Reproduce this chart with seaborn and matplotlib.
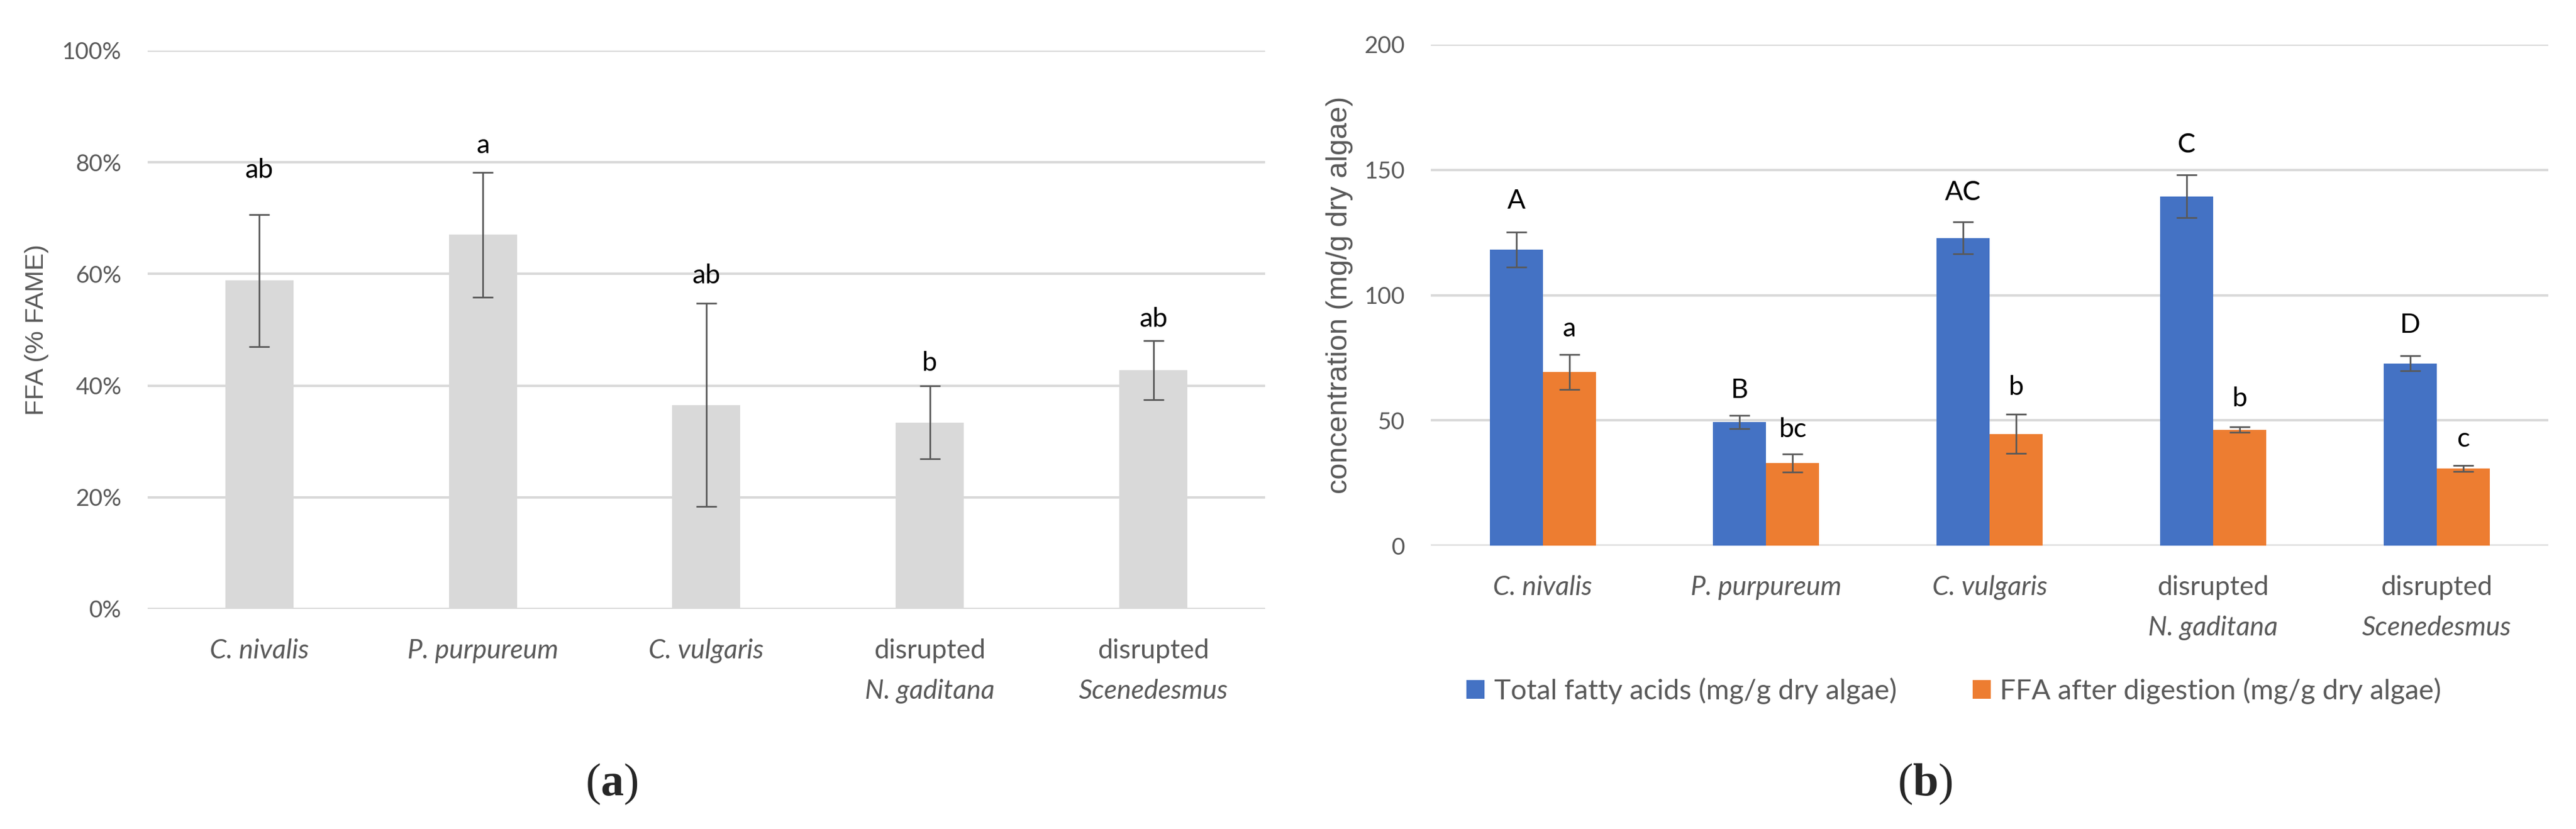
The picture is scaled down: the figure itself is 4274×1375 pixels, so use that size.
import matplotlib
matplotlib.use("Agg")
import matplotlib.pyplot as plt
import numpy as np
import pandas as pd
import seaborn as sns
from matplotlib.ticker import FuncFormatter

# categories
species = ["C. nivalis", "P. purpureum", "C. vulgaris", "N. gaditana", "Scenedesmus"]
disrupted = [False, False, False, True, True]

# (a) FFA as % of FAME
ffa_pct = [58.8, 67.0, 36.5, 33.4, 42.8]
ffa_pct_err = [11.8, 11.2, 18.2, 6.5, 5.3]
letters_a = ["ab", "a", "ab", "b", "ab"]

# (b) concentration, mg/g dry algae
series = ["Total fatty acids (mg/g dry algae)", "FFA after digestion (mg/g dry algae)"]
total_fa = [118.2, 49.4, 122.8, 139.4, 72.8]
total_fa_err = [7.0, 2.6, 6.4, 8.5, 2.9]
ffa_digest = [69.4, 33.0, 44.6, 46.3, 30.7]
ffa_digest_err = [7.0, 3.6, 7.8, 1.0, 1.2]
letters_total = ["A", "B", "AC", "C", "D"]
letters_ffa = ["a", "bc", "b", "b", "c"]

# letter offsets above error bar tops (points)
off_a = [53, 32, 33, 27, 25]
off_total = [37, 30, 35, 36, 37]
off_ffa = [30, 29, 32, 34, 32]

sns.set_style("white")
plt.rcParams["font.family"] = ["Lato", "DejaVu Sans"]
plt.rcParams["mathtext.fontset"] = "custom"
plt.rcParams["mathtext.rm"] = "Liberation Serif"
plt.rcParams["mathtext.bf"] = "Liberation Serif:bold"

GRID = "#D9D9D9"
TXT = "#595959"

fig = plt.figure(figsize=(42.74, 13.75), dpi=100)
axa = fig.add_axes([0.0573, 0.2655, 0.4338, 0.6735])
axb = fig.add_axes([0.5555, 0.3418, 0.4338, 0.6044])


def style_axis(ax, ymax, step, fmt):
    ax.set_xlim(-0.5, 4.5)
    ax.set_ylim(0, ymax)
    ax.set_yticks(np.arange(0, ymax + 1, step))
    ax.yaxis.set_major_formatter(FuncFormatter(fmt))
    ax.yaxis.grid(True, color=GRID, lw=2.9)
    ax.xaxis.grid(False)
    ax.set_axisbelow(True)
    for s in ax.spines.values():
        s.set_visible(False)
    ax.tick_params(axis="y", length=0, pad=31, labelsize=28, labelcolor=TXT)
    ax.tick_params(axis="x", length=0)
    ax.set_xticks(range(len(species)))
    ax.set_xticklabels([])
    ax.set_xlabel("")
    # category labels (two lines for disrupted strains)
    for i, (name, dis) in enumerate(zip(species, disrupted)):
        if dis:
            ax.annotate("disrupted", xy=(i, 0), xycoords=ax.get_xaxis_transform(),
                        xytext=(0, -50), textcoords="offset points", ha="center",
                        va="center", fontsize=32, color=TXT)
            ax.annotate(name, xy=(i, 0), xycoords=ax.get_xaxis_transform(),
                        xytext=(0, -98), textcoords="offset points", ha="center",
                        va="center", fontsize=32, color=TXT, style="italic")
        else:
            ax.annotate(name, xy=(i, 0), xycoords=ax.get_xaxis_transform(),
                        xytext=(0, -50), textcoords="offset points", ha="center",
                        va="center", fontsize=32, color=TXT, style="italic")


def add_errors(ax, container, err, letters, offs):
    xs = [p.get_x() + p.get_width() / 2 for p in container]
    hs = [p.get_height() for p in container]
    ax.errorbar(xs, hs, yerr=err, fmt="none", ecolor=TXT, elinewidth=2,
                capsize=12, capthick=2, zorder=3)
    for x, h, e, lab, o in zip(xs, hs, err, letters, offs):
        ax.annotate(lab, xy=(x, h + e), xytext=(0, o), textcoords="offset points",
                    ha="center", va="center", fontsize=32, color="black")


# ---- panel (a)
df_a = pd.DataFrame({"species": species, "ffa": ffa_pct})
sns.barplot(data=df_a, x="species", y="ffa", color=GRID, width=0.305,
            saturation=1, errorbar=None, linewidth=0, ax=axa)
style_axis(axa, 100, 20, lambda v, p: f"{v:.0f}%")
add_errors(axa, axa.containers[0], ffa_pct_err, letters_a, off_a)
axa.set_ylabel("FFA (% FAME)", family="Liberation Sans", fontsize=31, color=TXT)
axa.yaxis.label.set_va("center")
axa.yaxis.set_label_coords(-0.0992, 0.5)

# ---- panel (b)
df_b = pd.DataFrame({
    "species": species * 2,
    "series": [series[0]] * len(species) + [series[1]] * len(species),
    "value": total_fa + ffa_digest,
})
sns.barplot(data=df_b, x="species", y="value", hue="series",
            palette=["#4472C4", "#ED7D31"], width=0.475, saturation=1,
            errorbar=None, linewidth=0, ax=axb)
style_axis(axb, 200, 50, lambda v, p: f"{v:.0f}")
add_errors(axb, axb.containers[0], total_fa_err, letters_total, off_total)
add_errors(axb, axb.containers[1], ffa_digest_err, letters_ffa, off_ffa)
axb.set_ylabel("concentration (mg/g dry algae)", family="Liberation Sans",
               fontsize=35, color=TXT)
axb.yaxis.label.set_va("center")
axb.yaxis.set_label_coords(-0.082, 0.5)
sns.move_legend(axb, loc="center left", bbox_to_anchor=(0.0318, -0.29), ncol=2,
                frameon=False, title=None, fontsize=33.5, handlelength=0.65,
                handleheight=0.65, handletextpad=0.33, columnspacing=2.7,
                borderpad=0, borderaxespad=0, labelcolor=TXT)

fig.text(0.2375, 0.0545, r"$(\mathbf{a})$", ha="center", va="center", fontsize=55)
fig.text(0.7473, 0.0545, r"$(\mathbf{b})$", ha="center", va="center", fontsize=55)

fig.savefig("out.png", dpi=100)
